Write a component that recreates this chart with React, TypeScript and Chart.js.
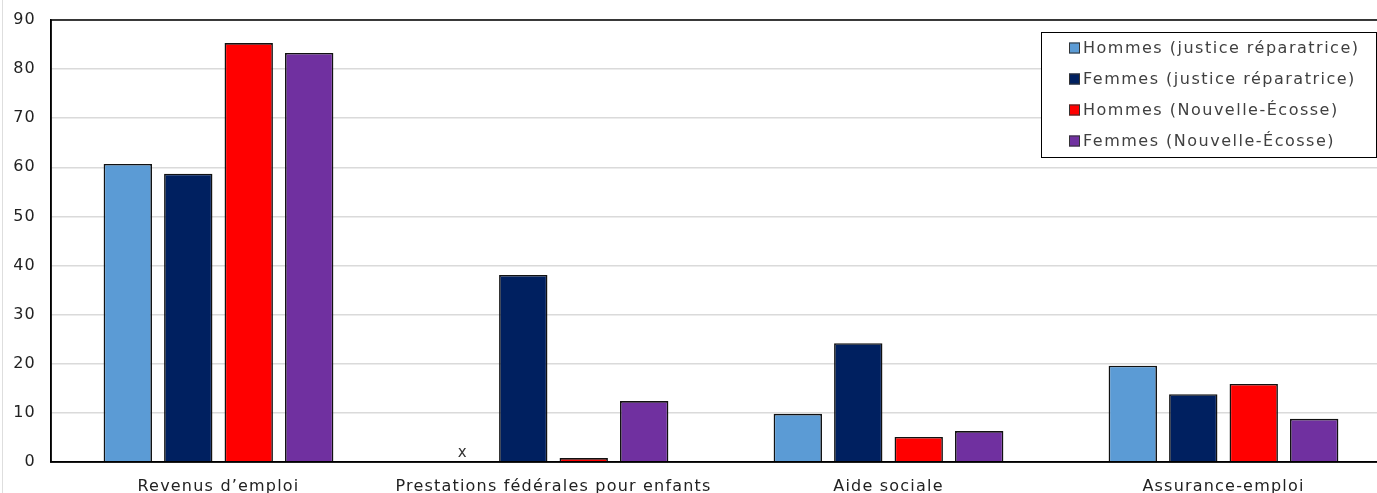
import React, { useEffect, useRef } from "react";
import { Chart, registerables } from "chart.js";

Chart.register(...registerables);

const categories = [
  "Revenus d’emploi",
  "Prestations fédérales pour enfants",
  "Aide sociale",
  "Assurance-emploi",
];
const seriesNames = [
  "Hommes (justice réparatrice)",
  "Femmes (justice réparatrice)",
  "Hommes (Nouvelle-Écosse)",
  "Femmes (Nouvelle-Écosse)",
];
const seriesColors = ["#5B9BD5", "#002060", "#FF0000", "#7030A0"];
const hommesJustice: (number | null)[] = [60.7, null, 9.8, 19.6];
const femmesJustice: (number | null)[] = [58.7, 38.1, 24.2, 13.8];
const hommesNE: (number | null)[] = [85.3, 0.8, 5.1, 15.9];
const femmesNE: (number | null)[] = [83.3, 12.4, 6.3, 8.8];
// [series index, category index] of values shown as "x" (not available)
const missingMarks: [number, number][] = [[0, 1]];
const yMin = 0;
const yMax = 90;
const yStep = 10;

const FONT = "'DejaVu Sans', Verdana, sans-serif";
const CAT_PCT = 0.722;
const BAR_PCT = 0.8;

const spacingPlugin = {
  id: "spacing",
  beforeUpdate(chart: any) {
    chart.ctx.letterSpacing = "1.2px";
  },
  beforeDraw(chart: any) {
    chart.ctx.letterSpacing = "1.2px";
  },
};

const framePlugin = {
  id: "frame",
  afterDatasetsDraw(chart: any) {
    const { ctx, chartArea } = chart;
    const xScale = chart.scales.x;
    const n = chart.data.labels.length;
    const nSeries = chart.data.datasets.length;
    const catW = xScale.width / n;
    const slot = (catW * CAT_PCT) / nSeries;
    ctx.save();
    ctx.fillStyle = "#333";
    ctx.font = `15px ${FONT}`;
    ctx.textAlign = "center";
    ctx.textBaseline = "bottom";
    for (const [s, c] of missingMarks) {
      const x = xScale.getPixelForValue(c) + (s - (nSeries - 1) / 2) * slot;
      ctx.fillText("x", x, chart.scales.y.getPixelForValue(0) - 1);
    }
    ctx.strokeStyle = "#000";
    ctx.lineWidth = 1.5;
    ctx.strokeRect(chartArea.left, chartArea.top, chartArea.right - chartArea.left, chartArea.bottom - chartArea.top);
    ctx.restore();
  },
  afterDraw(chart: any) {
    const { ctx, chartArea } = chart;
    const bx = 1041;
    const by = chartArea.top + 12;
    const bw = 335;
    const bh = 125;
    ctx.save();
    ctx.fillStyle = "#fff";
    ctx.fillRect(bx, by, bw, bh);
    ctx.strokeStyle = "#000";
    ctx.lineWidth = 1;
    ctx.strokeRect(bx + 0.5, by + 0.5, bw, bh);
    ctx.font = `16px ${FONT}`;
    ctx.letterSpacing = "1.5px";
    ctx.textBaseline = "middle";
    ctx.textAlign = "left";
    chart.data.datasets.forEach((ds: any, i: number) => {
      const cy = by + 16 + i * 31;
      ctx.fillStyle = ds.backgroundColor;
      ctx.fillRect(1069, cy - 5.5, 11, 11);
      ctx.strokeStyle = "#333";
      ctx.lineWidth = 1;
      ctx.strokeRect(1069.5, cy - 5, 10, 10);
      ctx.fillStyle = "#404040";
      ctx.fillText(ds.label, 1083, cy + 1);
    });
    ctx.restore();
  },
};

export default function App() {
  const ref = useRef<HTMLCanvasElement>(null);
  useEffect(() => {
    if (!ref.current) return;
    const seriesData = [hommesJustice, femmesJustice, hommesNE, femmesNE];
    const chart = new Chart(ref.current, {
      type: "bar",
      data: {
        labels: categories,
        datasets: seriesData.map((d, i) => ({
          label: seriesNames[i],
          data: d,
          backgroundColor: seriesColors[i],
          borderColor: "#111",
          borderWidth: 1.6,
          categoryPercentage: CAT_PCT,
          barPercentage: BAR_PCT,
        })),
      },
      options: {
        responsive: false,
        animation: false,
        layout: { padding: { top: 20, left: 0, right: 9, bottom: 0 } },
        plugins: {
          legend: { display: false },
          tooltip: { enabled: false },
        },
        scales: {
          x: {
            grid: { display: false, drawTicks: false },
            border: { display: true, color: "#000", width: 1.5 },
            ticks: {
              color: "#222",
              font: { family: FONT, size: 16 },
              padding: 15,
              maxRotation: 0,
              autoSkip: false,
            },
            afterFit: (s: any) => {
              s.height = 38;
            },
          },
          y: {
            min: yMin,
            max: yMax,
            ticks: {
              stepSize: yStep,
              color: "#222",
              font: { family: FONT, size: 16 },
              padding: 0,
            },
            grid: {
              color: "#dadada",
              lineWidth: 1.5,
              drawTicks: true,
              tickLength: 15,
              tickColor: "rgba(0,0,0,0)",
            },
            border: { display: true, color: "#000", width: 1.5 },
            afterFit: (s: any) => {
              s.width = 51;
            },
          },
        },
      },
      plugins: [spacingPlugin, framePlugin],
    });
    return () => chart.destroy();
  }, []);
  return (
    <div
      style={{
        position: "fixed",
        left: 0,
        top: 0,
        width: 1377,
        height: 493,
        overflow: "hidden",
        background: "#fff",
      }}
    >
      <div style={{ position: "absolute", left: 2, top: 0, width: 1, height: 493, background: "#dedede" }} />
      <canvas ref={ref} width={1400} height={500} style={{ display: "block" }} />
    </div>
  );
}
